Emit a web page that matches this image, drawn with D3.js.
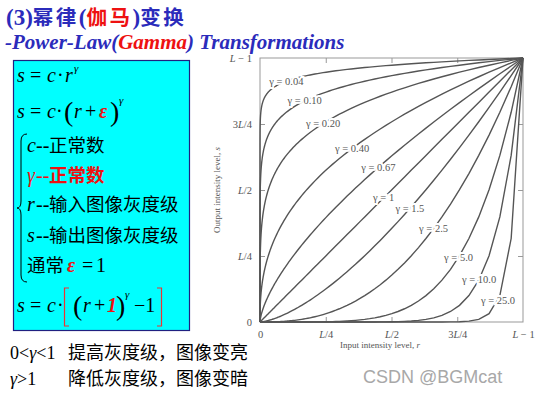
<!DOCTYPE html>
<html>
<head>
<meta charset="utf-8">
<script src="https://cdn.jsdelivr.net/npm/d3@7"></script>
<style>
  body { margin: 0; background: #fff; }
  svg { display: block; }
</style>
</head>
<body>
<div id="wrapper"></div>
<script>
// gamma curves s = r^gamma
const gammas = [0.04, 0.10, 0.20, 0.40, 0.67, 1, 1.5, 2.5, 5.0, 10.0, 25.0]
const gammaLabels = ["0.04", "0.10", "0.20", "0.40", "0.67", "1", "1.5", "2.5", "5.0", "10.0", "25.0"]
// input level (0..1) where each label sits on its curve
const labelAt = [0.1, 0.17, 0.24, 0.35, 0.45, 0.47, 0.57, 0.66, 0.755, 0.833, 0.905]
const tickValues = [0, 0.25, 0.5, 0.75, 1]
const tickLabels = ["0", "L/4", "L/2", "3L/4", "L − 1"]

const serif = "'Liberation Serif', 'DejaVu Serif', serif"
const cjk = "'Noto Sans CJK SC', sans-serif"

const svg = d3.select("#wrapper")
  .append("svg")
  .attr("width", 535)
  .attr("height", 394)

// ---- title
const title = svg.append("text")
  .attr("x", 6).attr("y", 24.5)
  .attr("fill", "#2b2bbb")
  .style("font-weight", "bold")
title.append("tspan").style("font-family", serif).style("font-size", "23px").text("(3)")
title.append("tspan").style("font-family", cjk).style("font-size", "20.5px").style("letter-spacing", "2.5px").text("幂律")
title.append("tspan").style("font-family", serif).style("font-size", "23px").text("(")
title.append("tspan").style("font-family", cjk).style("font-size", "20.5px").style("letter-spacing", "2.5px").attr("fill", "#ee1111").text("伽马")
title.append("tspan").style("font-family", serif).style("font-size", "23px").text(")")
title.append("tspan").style("font-family", cjk).style("font-size", "20.5px").style("letter-spacing", "2.5px").text("变换")

const sub = svg.append("text")
  .attr("x", 5).attr("y", 49)
  .attr("fill", "#2b2bbb")
  .style("font-family", serif)
  .style("font-size", "21px")
  .style("font-weight", "bold")
  .style("font-style", "italic")
sub.append("tspan").text("-Power-Law(")
sub.append("tspan").attr("fill", "#ee1111").text("Gamma")
sub.append("tspan").text(") Transformations")

// ---- formula box
svg.append("rect")
  .attr("x", 13.5).attr("y", 60.5)
  .attr("width", 176).attr("height", 270)
  .attr("fill", "#00ffff")
  .attr("stroke", "#202080")
  .attr("stroke-width", 1.2)

const box = svg.append("g")
  .style("font-family", serif)
  .style("font-size", "20px")
  .attr("fill", "#000")

function put(x, y, str, opts = {}) {
  return box.append("text")
    .attr("x", x).attr("y", y)
    .style("font-style", opts.italic ? "italic" : "normal")
    .style("font-weight", opts.bold ? "bold" : "normal")
    .style("font-size", opts.size ? opts.size + "px" : null)
    .style("font-family", opts.family || null)
    .attr("fill", opts.color || "#000")
    .text(str)
}

// s = c·r^γ
put(17, 82, "s", { italic: true })
put(30, 82, "=")
put(47, 82, "c", { italic: true })
put(57, 82, "·")
put(65, 82, "r", { italic: true })
put(74, 72, "γ", { italic: true, size: 11 })

// s = c·(r+ε)^γ
put(17, 118, "s", { italic: true })
put(30, 118, "=")
put(47, 118, "c", { italic: true })
put(56, 118, "·")
put(64, 121, "(", { size: 28 })
put(74, 118, "r", { italic: true })
put(85, 118, "+")
put(99, 118, "ε", { italic: true, bold: true, color: "#ee1111" })
put(110, 121, ")", { size: 28 })
put(119, 104, "γ", { italic: true, size: 11 })

// brace
box.append("path")
  .attr("d", "M27,134 Q21,134 21,141 L21,201 Q21,208 17,208 Q21,208 21,215 L21,275 Q21,282 27,282")
  .attr("fill", "none")
  .attr("stroke", "#000")
  .attr("stroke-width", 1)

put(27, 152, "c", { italic: true })
put(36, 152, "--")
put(49, 152, "正常数", { family: cjk, size: 18.5 })

put(27, 182, "γ", { italic: true, color: "#ee1111" })
put(36, 182, "--", { color: "#ee1111" })
put(49, 182, "正常数", { family: cjk, size: 18.5, color: "#ee1111", bold: true })

put(27, 211, "r", { italic: true })
put(36, 211, "--")
put(49, 211, "输入图像灰度级", { family: cjk, size: 18.5 })

put(27, 242, "s", { italic: true })
put(36, 242, "--")
put(49, 242, "输出图像灰度级", { family: cjk, size: 18.5 })

put(27, 272, "通常", { family: cjk, size: 18.5 })
put(67, 272, "ε", { italic: true, bold: true, color: "#ee1111" })
put(82, 272, "=")
put(96, 272, "1")

// s = c·[(r+1)^γ − 1]
put(17, 312, "s", { italic: true })
put(30, 312, "=")
put(47, 312, "c", { italic: true })
put(57, 312, "·")
box.append("path")
  .attr("d", "M69,288 L64.5,288 L64.5,326 L69,326")
  .attr("fill", "none").attr("stroke", "#ee3333").attr("stroke-width", 1.2)
box.append("path")
  .attr("d", "M157,288 L161.5,288 L161.5,326 L157,326")
  .attr("fill", "none").attr("stroke", "#ee3333").attr("stroke-width", 1.2)
put(73, 315, "(", { size: 28 })
put(83, 312, "r", { italic: true })
put(94, 312, "+")
put(107, 312, "1", { italic: true, bold: true, color: "#ee1111" })
put(116, 315, ")", { size: 28 })
put(125, 298, "γ", { italic: true, size: 11 })
put(134, 312, "−1")

// ---- bottom notes
const notes = svg.append("g").style("font-size", "18px")
notes.append("text").attr("x", 10).attr("y", 359).style("font-family", serif)
  .html("0&lt;<tspan font-style='italic'>γ</tspan>&lt;1")
notes.append("text").attr("x", 68).attr("y", 359).style("font-family", cjk).text("提高灰度级，图像变亮")
notes.append("text").attr("x", 10).attr("y", 385).style("font-family", serif)
  .html("<tspan font-style='italic'>γ</tspan>&gt;1")
notes.append("text").attr("x", 68).attr("y", 385).style("font-family", cjk).text("降低灰度级，图像变暗")

svg.append("text")
  .attr("x", 363).attr("y", 383)
  .attr("fill", "#a8a8a8")
  .style("font-family", "'Liberation Sans', Arial, sans-serif")
  .style("font-size", "18px")
  .text("CSDN @BGMcat")

// ---- gamma chart
const xScale = d3.scaleLinear().domain([0, 1]).range([260, 523])
const yScale = d3.scaleLinear().domain([0, 1]).range([322, 58])

const chart = svg.append("g")

chart.append("rect")
  .attr("x", xScale(0)).attr("y", yScale(1))
  .attr("width", xScale(1) - xScale(0))
  .attr("height", yScale(0) - yScale(1))
  .attr("fill", "none")
  .attr("stroke", "#999")
  .attr("stroke-width", 1)

const fmtTick = (d, i) => tickLabels[i]
const styleAxis = g => {
  g.select(".domain").remove()
  g.selectAll(".tick line").attr("stroke", "#999")
  g.selectAll(".tick text")
    .attr("fill", "#555")
    .style("font-family", serif)
    .style("font-size", "10.5px")
    .html(d => {
      const t = tickLabels[tickValues.indexOf(d)]
      return t.replace(/L/g, "<tspan font-style='italic'>L</tspan>")
    })
}

chart.append("g")
  .attr("transform", `translate(0,${yScale(0)})`)
  .call(d3.axisBottom(xScale).tickValues(tickValues).tickFormat(fmtTick).tickSizeInner(-5).tickSizeOuter(0).tickPadding(9))
  .call(styleAxis)
  .call(g => g.selectAll(".tick").filter(d => d === 0 || d === 1).select("line").remove())

chart.append("g")
  .attr("transform", `translate(${xScale(0)},0)`)
  .call(d3.axisLeft(yScale).tickValues(tickValues).tickFormat(fmtTick).tickSizeInner(-5).tickSizeOuter(0).tickPadding(8))
  .call(styleAxis)
  .call(g => g.selectAll(".tick").filter(d => d === 0 || d === 1).select("line").remove())

chart.append("g")
  .attr("transform", `translate(0,${yScale(1)})`)
  .call(d3.axisTop(xScale).tickValues(tickValues.slice(1, 4)).tickSizeInner(-5).tickSizeOuter(0).tickFormat(""))
  .call(g => { g.select(".domain").remove(); g.selectAll(".tick line").attr("stroke", "#999") })

chart.append("g")
  .attr("transform", `translate(${xScale(1)},0)`)
  .call(d3.axisRight(yScale).tickValues(tickValues.slice(1, 4)).tickSizeInner(-5).tickSizeOuter(0).tickFormat(""))
  .call(g => { g.select(".domain").remove(); g.selectAll(".tick line").attr("stroke", "#999") })

// axis titles
chart.append("text")
  .attr("transform", `translate(220,${(yScale(0) + yScale(1)) / 2}) rotate(-90)`)
  .attr("text-anchor", "middle")
  .attr("fill", "#555")
  .style("font-family", serif)
  .style("font-size", "9px")
  .html("Output intensity level, <tspan font-style='italic'>s</tspan>")

chart.append("text")
  .attr("x", 380).attr("y", 348)
  .attr("text-anchor", "middle")
  .attr("fill", "#555")
  .style("font-family", serif)
  .style("font-size", "9px")
  .html("Input intensity level, <tspan font-style='italic'>r</tspan>")

// curves
const rSamples = [0].concat(d3.range(-10, 0.0001, 0.02).map(e => Math.pow(10, e)))
const line = d3.line()
  .x(d => xScale(d[0]))
  .y(d => yScale(d[1]))

chart.append("g")
  .selectAll("path")
  .data(gammas)
  .enter().append("path")
    .attr("d", g => line(rSamples.map(r => [r, Math.pow(r, g)])))
    .attr("fill", "none")
    .attr("stroke", "#555")
    .attr("stroke-width", 1.4)

chart.append("g")
  .selectAll("text")
  .data(gammas)
  .enter().append("text")
    .attr("x", (g, i) => xScale(labelAt[i]))
    .attr("y", (g, i) => yScale(Math.pow(labelAt[i], g)) + 3.5)
    .attr("text-anchor", "middle")
    .attr("fill", "#555")
    .attr("stroke", "#fff")
    .attr("stroke-width", 4)
    .attr("paint-order", "stroke")
    .style("font-family", serif)
    .style("font-size", "10.5px")
    .text((g, i) => "γ = " + gammaLabels[i])
</script>
</body>
</html>
